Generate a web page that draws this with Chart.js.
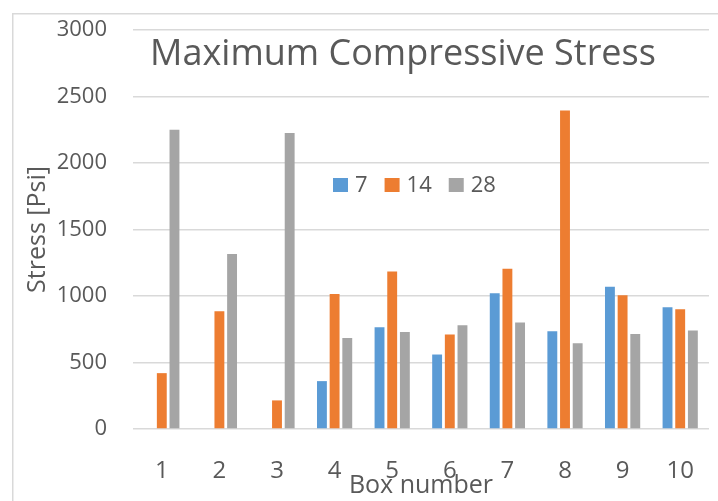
<!DOCTYPE html>
<html>
<head>
<meta charset="utf-8">
<script src="https://cdn.jsdelivr.net/npm/chart.js@4/dist/chart.umd.min.js"></script>
<style>
  html, body { margin: 0; padding: 0; background: #ffffff; }
  #wrap { width: 718px; height: 501px; position: relative; }
</style>
</head>
<body>
<div id="wrap"><canvas id="c" width="718" height="501"></canvas></div>
<script>
// Box numbers along the x axis
const boxes = ['1', '2', '3', '4', '5', '6', '7', '8', '9', '10'];
// Maximum compressive stress (psi) by curing age in days
const age7 = [null, null, null, 360, 765, 560, 1020, 735, 1070, 915];
const age14 = [420, 885, 215, 1015, 1185, 710, 1205, 2395, 1005, 900];
const age28 = [2250, 1315, 2225, 685, 730, 780, 800, 645, 715, 740];
// Series names shown in the legend
const seriesNames = ['7', '14', '28'];
// Stress axis ticks
const stressTicks = [0, 500, 1000, 1500, 2000, 2500, 3000];

const TEXT = '#595959';
const GRID = '#d9d9d9';
const FONT = "'Open Sans', 'Noto Sans', sans-serif";

// Light frame around the chart
const framePlugin = {
  id: 'frame',
  beforeDraw(chart) {
    const ctx = chart.ctx;
    ctx.save();
    ctx.fillStyle = '#ffffff';
    ctx.fillRect(0, 0, chart.width, chart.height);
    ctx.strokeStyle = GRID;
    ctx.lineWidth = 1.5;
    ctx.strokeRect(12.75, 13.75, 800, 600);
    ctx.restore();
  }
};

// Title drawn over the top of the plot area
const titlePlugin = {
  id: 'insideTitle',
  afterDraw(chart) {
    const ctx = chart.ctx;
    ctx.save();
    ctx.font = '36px ' + FONT;
    ctx.fillStyle = TEXT;
    ctx.textAlign = 'center';
    ctx.textBaseline = 'alphabetic';
    ctx.fillText('Maximum Compressive Stress', 403, 65);
    ctx.restore();
  }
};

// Legend drawn inside the plot area
const legendPlugin = {
  id: 'insideLegend',
  afterDraw(chart) {
    const ctx = chart.ctx;
    ctx.save();
    ctx.font = '22px ' + FONT;
    ctx.textBaseline = 'middle';
    ctx.textAlign = 'left';
    let x = 333;
    const cy = 185;
    const box = 14;
    chart.data.datasets.forEach((ds) => {
      ctx.fillStyle = ds.backgroundColor;
      ctx.fillRect(x, cy - box / 2, box + 1, box);
      x += box + 1 + 7;
      ctx.fillStyle = TEXT;
      ctx.fillText(ds.label, x, cy + 1);
      x += ctx.measureText(ds.label).width + 17;
    });
    ctx.restore();
  }
};

const barOpts = { categoryPercentage: 0.66, barPercentage: 0.78, borderWidth: 0 };

new Chart(document.getElementById('c'), {
  type: 'bar',
  data: {
    labels: boxes,
    datasets: [
      Object.assign({ label: seriesNames[0], data: age7, backgroundColor: '#5B9BD5' }, barOpts),
      Object.assign({ label: seriesNames[1], data: age14, backgroundColor: '#ED7D31' }, barOpts),
      Object.assign({ label: seriesNames[2], data: age28, backgroundColor: '#A5A5A5' }, barOpts)
    ]
  },
  options: {
    responsive: false,
    animation: false,
    devicePixelRatio: 1,
    layout: { padding: { left: 12, top: 30, right: 9, bottom: 0 } },
    plugins: {
      legend: { display: false },
      title: { display: false },
      tooltip: { enabled: false }
    },
    scales: {
      x: {
        afterFit(s) { s.height = 72; },
        grid: { display: false },
        border: { display: false },
        ticks: { color: TEXT, font: { family: FONT, size: 24 }, padding: 20 },
        title: {
          display: true, text: 'Box number', color: TEXT,
          font: { family: FONT, size: 25 }, padding: { top: 0, bottom: 0 }
        }
      },
      y: {
        min: stressTicks[0],
        max: stressTicks[stressTicks.length - 1],
        afterFit(s) {
          s.width = 121;
          s.paddingTop = 0;
          s.paddingBottom = 0;
        },
        afterBuildTicks(s) { s.ticks = stressTicks.map(v => ({ value: v })); },
        grid: { color: GRID, lineWidth: 1.5, drawTicks: false },
        border: { display: false },
        ticks: {
          color: TEXT, font: { family: FONT, size: 22 }, padding: 26,
          callback: (v) => String(v)
        },
        title: {
          display: true, text: 'Stress [Psi]', color: TEXT,
          font: { family: FONT, size: 25 }, padding: { top: 11, bottom: 0 }
        }
      }
    }
  },
  plugins: [framePlugin, titlePlugin, legendPlugin]
});
</script>
</body>
</html>
